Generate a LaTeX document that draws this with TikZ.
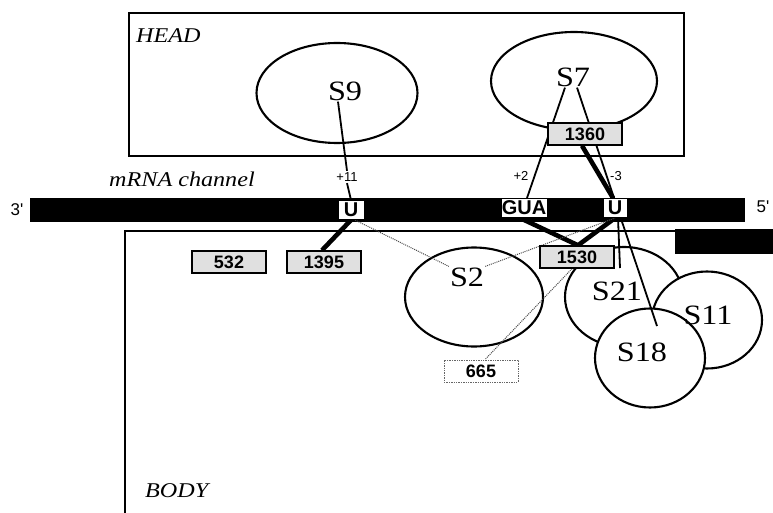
\documentclass[tikz,border=0pt]{standalone}
\usepackage{fontspec}
\setmainfont{Liberation Serif}
\setsansfont{Liberation Sans}
\newfontfamily\wideserif[FakeStretch=1.15]{Liberation Serif}
\usetikzlibrary{shapes.geometric}
\pgfdeclarelayer{under}
\pgfdeclarelayer{links}
\pgfsetlayers{under,links,main}
\begin{document}
\begin{tikzpicture}[x=1pt,y=-1pt,
  boxframe/.style={draw, line width=1.3pt, inner sep=0, outer sep=0},
  barfill/.style={fill=black, inner sep=0, outer sep=0},
  prot/.style={draw, ellipse, line width=2.1pt, inner sep=0, outer sep=0, fill=white},
  plbl/.style={font=\wideserif\fontsize{28}{28}\selectfont, inner sep=1pt},
  regionlbl/.style={font=\wideserif\itshape\fontsize{21}{21}\selectfont, inner sep=0, anchor=base west},
  rnabox/.style={draw, line width=1.4pt, fill=gray!24, minimum width=74, minimum height=22, inner sep=0, font=\sffamily\bfseries\fontsize{18}{18}\selectfont},
  nuc/.style={draw, fill=white, line width=1pt, inner sep=0, minimum height=19, font=\sffamily\bfseries\fontsize{20}{20}\selectfont},
  poslbl/.style={font=\sffamily\fontsize{13}{13}\selectfont, inner sep=1.5pt},
  primelbl/.style={font=\sffamily\fontsize{17}{17}\selectfont, inner sep=0},
  lnk/.style={line width=1.8pt},
  blk/.style={line width=4.6pt},
  dots/.style={densely dotted, line width=1pt, black!70}
]
\useasboundingbox (0,0) rectangle (773,513);

\begin{pgfonlayer}{under}
  \fill[white] (0,0) rectangle (773,513);
  % frames
  \node[boxframe, minimum width=555, minimum height=143, anchor=north west] (head) at (129,13) {};
  \coordinate (bodytr) at (675,231);
  \coordinate (bodytl) at (125,231);
  \coordinate (bodybl) at (125,513);
  \draw[line width=1.3pt] (bodytr) -- (bodytl) -- (bodybl);
  % mRNA bars
  \node[barfill, minimum width=715, minimum height=24, anchor=north west] (mrna) at (30,198) {};
  \node[barfill, minimum width=100, minimum height=25, anchor=north west] (bar2) at (675,229) {};
  % proteins
  \node[prot, minimum width=161, minimum height=100] (s9) at (337,93) {};
  \node[prot, minimum width=166, minimum height=98] (s7) at (574,81) {};
  \node[prot, minimum width=138, minimum height=99] (s2) at (474,297) {};
  \node[prot, minimum width=118, minimum height=100] (s21) at (624,297) {};
  \node[prot, minimum width=110, minimum height=97] (s11) at (707,320) {};
  \node[prot, minimum width=110, minimum height=99] (s18) at (650,358) {};
\end{pgfonlayer}

% labels
\node[regionlbl] (headlbl) at (136,43) {HEAD};
\node[regionlbl] (chanlbl) at (109,186) {mRNA channel};
\node[regionlbl] (bodylbl) at (145,497) {BODY};
\node[primelbl] (p3) at (17,210) {3\textquotesingle};
\node[primelbl] (p5) at (763,207) {5\textquotesingle};

\node[plbl] (s9lbl) at (345,91) {S9};
\node[plbl] (s7lbl) at (573,77) {S7};
\node[plbl] (s2lbl) at (467,277) {S2};
\node[plbl] (s21lbl) at (617,291) {S21};
\node[plbl] (s11lbl) at (708,315) {S11};
\node[plbl] (s18lbl) at (642,352) {S18};

\node[poslbl] (p11) at (347,177) {+11};
\node[poslbl] (p2) at (521,176) {+2};
\node[poslbl] (m3) at (616,176) {-3};

% rRNA boxes
\node[rnabox] (r532) at (229,262) {532};
\node[rnabox] (r1395) at (324,262) {1395};
\node[rnabox] (r1530) at (577,257) {1530};
\node[rnabox] (r1360) at (585,134) {1360};
\node[rnabox, fill=white, draw=black!60, densely dotted, line width=0.9pt] (r665) at (481,371) {665};

% nucleotides
\node[nuc, minimum width=26] (u1) at (351,210) {U};
\node[nuc, minimum width=46] (gua) at (524,208) {GUA};
\node[nuc, minimum width=24] (u2) at (615,208) {U};

\coordinate (s21end) at (620,268);
\coordinate (s18end) at (657,326);

\begin{pgfonlayer}{links}
  \draw[lnk] ([xshift=-7pt]s9lbl.south) -- (p11.north);
  \draw[lnk] (p11.south) -- (u1.north);
  \draw[lnk] ([xshift=-8pt]s7lbl.south) -- ([xshift=3pt]gua.north);
  \draw[lnk] ([xshift=4pt]s7lbl.south) -- (s18end);
  \draw[blk] ([xshift=-3pt]r1360.south) -- ([xshift=-2pt]u2.north);
  \draw[blk] ([xshift=-4pt]gua.south) -- ([xshift=1pt]r1530.north);
  \draw[blk] (u2.south) -- ([xshift=1pt]r1530.north);
  \draw[blk] (u1.south) -- ([xshift=-2pt]r1395.north);
  \draw[lnk] ([xshift=3pt]u2.south) -- (s21end);
  \draw[dots] ([xshift=4pt]u1.south) -- (s2lbl.north west);
  \draw[dots] (s2lbl.north east) -- (u2.south);
  \draw[dots] ([xshift=-5pt]r1530.south) -- ([xshift=4pt]r665.north);
\end{pgfonlayer}
\end{tikzpicture}
\end{document}
